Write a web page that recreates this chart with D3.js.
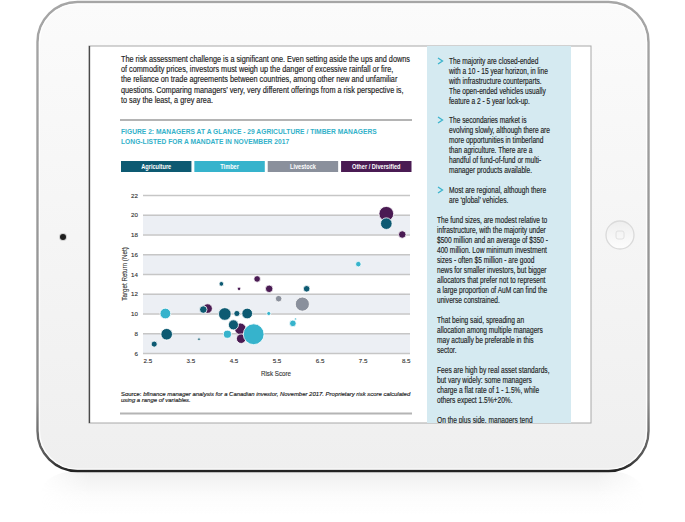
<!DOCTYPE html>
<html><head><meta charset="utf-8">
<script src="https://cdn.jsdelivr.net/npm/d3@7"></script>
<style>html,body{margin:0;padding:0;background:#fff;}svg{display:block;}</style>
</head><body>
<svg id="c" width="685" height="522"></svg>
<script>
// ---------- DATA ----------
const categories = ["Agriculture", "Timber", "Livestock", "Other / Diversified"];
const categoryColors = ["#0d5a72", "#36b3cc", "#8a909c", "#4a1b53"];
// drawing order: Other, Livestock, Agriculture, Timber
const sectorIndex  = [3,3,3,3,3,3,3,3, 2,2, 0,0,0,0,0,0,0,0,0,0,0, 1,1,1,1,1,1,1];
const riskScore    = [8.05,8.42,5.05,4.63,5.33,3.90,4.66,4.68, 5.55,6.10, 8.05,4.22,6.20,3.80,4.30,4.58,4.82,4.50,2.95,2.66,3.70, 7.40,2.92,5.32,4.97,4.36,5.88,5.94];
const targetReturn = [20.1,18.0,13.5,12.5,12.5,10.5,8.45,7.45, 11.5,10.95, 19.1,13.0,12.5,10.4,9.95,10.0,10.0,8.85,7.9,6.9,7.4, 15.0,10.0,10.0,7.9,7.9,9.0,9.45];
const fundSize     = [50,13,10,2.7,13,21,31,21, 10,46, 31,5,10,13,37,8.5,26.5,23.5,31,8.5,1.6, 7,26.5,3.8,100,15,10,1];
const xTicks = [2.5, 3.5, 4.5, 5.5, 6.5, 7.5, 8.5];
const yTicks = [6, 8, 10, 12, 14, 16, 18, 20, 22];

const titleLines = ["FIGURE 2: MANAGERS AT A GLANCE - 29 AGRICULTURE / TIMBER MANAGERS",
                    "LONG-LISTED FOR A MANDATE IN NOVEMBER 2017"];
const xTitle = "Risk Score";
const yTitle = "Target Return (Net)";
const sourceLines = ["bfinance manager analysis for a Canadian investor, November 2017. Proprietary risk score calculated",
                     "using a range of variables."];
const bodyLines = [
  "The risk assessment challenge is a significant one. Even setting aside the ups and downs",
  "of commodity prices, investors must weigh up the danger of excessive rainfall or fire,",
  "the reliance on trade agreements between countries, among other new and unfamiliar",
  "questions. Comparing managers\u2019 very, very different offerings from a risk perspective is,",
  "to say the least, a grey area."];
const bullet1 = ["The majority are closed-ended","with a 10 - 15 year horizon, in line","with infrastructure counterparts.","The open-ended vehicles usually","feature a 2 - 5 year lock-up."];
const bullet2 = ["The secondaries market is","evolving slowly, although there are","more opportunities in timberland","than agriculture. There are a","handful of fund-of-fund or multi-","manager products available."];
const bullet3 = ["Most are regional, although there","are \u2018global\u2019 vehicles."];
const para1 = ["The fund sizes, are modest relative to","infrastructure, with the majority under","$500 million and an average of $350 -","400 million. Low minimum investment","sizes - often $5 million - are good","news for smaller investors, but bigger","allocators that prefer not to represent","a large proportion of AuM can find the","universe constrained."];
const para2 = ["That being said, spreading an","allocation among multiple managers","may actually be preferable in this","sector."];
const para3 = ["Fees are high by real asset standards,","but vary widely: some managers","charge a flat rate of 1 - 1.5%, while","others expect 1.5%+20%."];
const para4 = ["On the plus side, managers tend"];

// ---------- DRAW ----------
const FONT = "'Liberation Sans', Arial, sans-serif";
const svg = d3.select("#c");
const defs = svg.append("defs");

function lg(id, x2, y2, stops) {
  const g = defs.append("linearGradient").attr("id", id).attr("x1", 0).attr("y1", 0).attr("x2", x2).attr("y2", y2);
  stops.forEach(s => g.append("stop").attr("offset", s[0]).attr("stop-color", s[1]).attr("stop-opacity", s[2] == null ? 1 : s[2]));
}
lg("bodyFill", 0, 1, [[0, "#fbfbfb"], [1, "#efefef"]]);
lg("bodyStroke", 0, 1, [[0, "#a6a6a6"], [0.85, "#8e8e8e"], [0.97, "#555"], [1, "#222"]]);
lg("topBorder", 1, 0, [[0, "#333"], [0.6, "#3a3a3a"], [0.72, "#aaa"], [1, "#c4c4c4"]]);
lg("refl", 0, 1, [[0, "#d0d0d0", 0.35], [0.5, "#e8e8e8", 0.15], [1, "#ffffff", 0]]);
lg("reflH", 1, 0, [[0, "#fff", 0], [0.08, "#fff", 1], [0.92, "#fff", 1], [1, "#fff", 0]]);
lg("homeFill", 0, 1, [[0, "#eeeeee"], [1, "#fdfdfd"]]);
const mask = defs.append("mask").attr("id", "reflMask");
mask.append("rect").attr("x", 40).attr("y", 472).attr("width", 605).attr("height", 50).attr("fill", "url(#reflH)");

// reflection
svg.append("rect").attr("x", 40).attr("y", 472).attr("width", 605).attr("height", 50).attr("rx", 30)
  .attr("fill", "url(#refl)").attr("mask", "url(#reflMask)");

// iPad body
svg.append("rect").attr("x", 37.5).attr("y", 2).attr("width", 611).attr("height", 469).attr("rx", 40)
  .attr("fill", "url(#bodyFill)").attr("stroke", "url(#bodyStroke)").attr("stroke-width", 2.4);
svg.append("rect").attr("x", 39.5).attr("y", 4).attr("width", 607).attr("height", 465).attr("rx", 38)
  .attr("fill", "none").attr("stroke", "#ffffff").attr("stroke-width", 1.2).attr("opacity", 0.9);

// camera & home button
svg.append("circle").attr("cx", 63).attr("cy", 237).attr("r", 4).attr("fill", "#cfcfcf");
svg.append("circle").attr("cx", 63).attr("cy", 237).attr("r", 3).attr("fill", "#1e1e1e");
svg.append("circle").attr("cx", 620).attr("cy", 235).attr("r", 14).attr("fill", "url(#homeFill)")
  .attr("stroke", "#dadada").attr("stroke-width", 1.3);
svg.append("rect").attr("x", 616).attr("y", 231).attr("width", 8).attr("height", 8).attr("rx", 2)
  .attr("fill", "none").attr("stroke", "#dadada").attr("stroke-width", 0.8);

// screen
const SX0 = 89, SY0 = 46, SX1 = 591, SY1 = 423;
defs.append("clipPath").attr("id", "screenClip").append("rect")
  .attr("x", SX0).attr("y", SY0).attr("width", SX1 - SX0).attr("height", SY1 - SY0);
svg.append("rect").attr("x", SX0).attr("y", SY0).attr("width", SX1 - SX0).attr("height", SY1 - SY0)
  .attr("fill", "#fff").attr("stroke", "#a8a8a8").attr("stroke-width", 1);
const screen = svg.append("g").attr("clip-path", "url(#screenClip)");
screen.append("rect").attr("x", 427).attr("y", SY0).attr("width", 144).attr("height", SY1 - SY0).attr("fill", "#d5eaf1");
svg.append("line").attr("x1", SX0).attr("x2", SX1).attr("y1", SY0 + 0.5).attr("y2", SY0 + 0.5)
  .attr("stroke", "url(#topBorder)").attr("stroke-width", 2);
svg.append("line").attr("x1", SX0 + 0.5).attr("x2", SX0 + 0.5).attr("y1", SY0).attr("y2", SY1)
  .attr("stroke", "#4a4a4a").attr("stroke-width", 1.3);

// text helper: draws lines, horizontally fitted
function textBlock(parent, lines, o) {
  const g = parent.append("g");
  const inner = g.append("g");
  const nodes = lines.map((l, i) => {
    const t = inner.append("text").attr("x", 0)
      .attr("y", o.ys ? o.ys[i] : o.y + i * o.lh)
      .attr("font-family", FONT).attr("font-size", o.size)
      .attr("font-weight", o.weight || "normal").attr("font-style", o.style || "normal")
      .attr("fill", o.fill || "#333").attr("text-anchor", o.anchor || "start")
      .attr("stroke", o.heavy ? (o.fill || "#333") : "none").attr("stroke-width", o.heavy || 0);
    if (o.prefix && i === 0) {
      t.append("tspan").attr("font-style", "normal").text(o.prefix);
    }
    t.append("tspan").text(l);
    return t.node();
  });
  let sx = o.sx || 1;
  if (o.fitWidth != null) sx = o.fitWidth / nodes[o.fitIndex || 0].getComputedTextLength();
  g.attr("transform", `translate(${o.x},0) scale(${sx},1)`);
  return sx;
}

// main paragraph
textBlock(screen, bodyLines, {x: 121, y: 61.8, lh: 10.3, size: 8.2, fill: "#222", heavy: 0.15, fitWidth: 289});

// rules
screen.append("line").attr("x1", 120).attr("x2", 412).attr("y1", 120).attr("y2", 120).attr("stroke", "#b4b4b4").attr("stroke-width", 1.8);
screen.append("line").attr("x1", 120).attr("x2", 412).attr("y1", 413.5).attr("y2", 413.5).attr("stroke", "#b4b4b4").attr("stroke-width", 1.8);

// title
textBlock(screen, titleLines, {x: 121, y: 133.8, lh: 10, size: 7, weight: "bold", fill: "#33b1c9", fitWidth: 256});

// legend
const legX = d3.scaleBand().domain(categories).range([121, 411.5]).paddingInner(0.04);
const leg = screen.append("g");
categories.forEach((c, i) => {
  leg.append("rect").attr("x", legX(c)).attr("y", 161).attr("width", legX.bandwidth()).attr("height", 11)
    .attr("fill", categoryColors[i]);
  const cx = legX(c) + legX.bandwidth() / 2;
  leg.append("text").attr("transform", `translate(${cx},169) scale(0.88,1)`)
    .attr("text-anchor", "middle").attr("font-family", FONT).attr("font-size", 6.4).attr("font-weight", "bold")
    .attr("fill", "#fff").text(c);
});

// chart
const x = d3.scaleLinear().domain([2.4, 8.6]).range([143, 410]);
const y = d3.scaleLinear().domain([6, 22]).range([353, 195]);
const r = d3.scaleSqrt().domain([0, 100]).range([0, 10.4]);
const chart = screen.append("g");
// alternating bands
for (let i = 0; i < yTicks.length - 1; i += 2) {
  chart.append("rect").attr("x", x.range()[0]).attr("width", x.range()[1] - x.range()[0])
    .attr("y", y(yTicks[i + 1])).attr("height", y(yTicks[i]) - y(yTicks[i + 1])).attr("fill", "#eceff4");
}
// gridlines via axis
const yAxis = d3.axisLeft(y).tickValues(yTicks).tickSize(-(x.range()[1] - x.range()[0])).tickPadding(5).tickFormat(d3.format("d"));
const gy = chart.append("g").attr("transform", `translate(${x.range()[0]},0)`).call(yAxis);
gy.select(".domain").remove();
gy.selectAll(".tick line").attr("stroke", "#c6c6c6").attr("stroke-width", 1.3);
gy.selectAll(".tick text").attr("font-family", FONT).attr("font-size", 6.2).attr("fill", "#333")
  .attr("stroke", "#333").attr("stroke-width", 0.12).attr("dy", "0.35em");

const xAxis = d3.axisBottom(x).tickValues(xTicks).tickSize(0).tickPadding(6).tickFormat(d3.format(".1f"));
const gx = chart.append("g").attr("transform", `translate(0,${y(6)})`).call(xAxis);
gx.select(".domain").remove();
gx.selectAll(".tick text").attr("font-family", FONT).attr("font-size", 6.2).attr("fill", "#333")
  .attr("stroke", "#333").attr("stroke-width", 0.12);

// bubbles
const pts = riskScore.map((v, i) => ({x: v, y: targetReturn[i], s: fundSize[i], c: sectorIndex[i]}));
chart.append("g").selectAll("circle").data(pts).join("circle")
  .attr("cx", d => x(d.x)).attr("cy", d => y(d.y)).attr("r", d => r(d.s))
  .attr("fill", d => categoryColors[d.c]).attr("stroke", "#fff").attr("stroke-width", 0.8);

// axis titles
chart.append("text").attr("transform", `translate(276,376) scale(0.92,1)`).attr("text-anchor", "middle")
  .attr("font-family", FONT).attr("font-size", 6.8).attr("fill", "#333").attr("stroke", "#333").attr("stroke-width", 0.12).text(xTitle);
chart.append("text").attr("transform", `translate(126.5,274) rotate(-90) scale(0.92,1)`).attr("text-anchor", "middle")
  .attr("font-family", FONT).attr("font-size", 6.8).attr("fill", "#333").attr("stroke", "#333").attr("stroke-width", 0.12).text(yTitle);

// source
textBlock(screen, sourceLines, {x: 121, y: 396, lh: 6.2, size: 5.6, style: "italic", fill: "#222", heavy: 0.15, prefix: "Source: ", fitWidth: 290});

// sidebar
const sideYs = (centers) => centers.map(c => c + 2.8);
const sideX = 449, sideP = 437;
const sideOpt = {size: 8.2, fill: "#222", heavy: 0.15};
const sxSide = textBlock(screen, bullet1, Object.assign({x: sideX, ys: sideYs([61,71,81,91,101]), fitWidth: 99, fitIndex: 1}, sideOpt));
textBlock(screen, bullet2, Object.assign({x: sideX, ys: sideYs([120,130.5,140.5,150.5,160.5,170.5]), sx: sxSide}, sideOpt));
textBlock(screen, bullet3, Object.assign({x: sideX, ys: sideYs([190,200]), sx: sxSide}, sideOpt));
textBlock(screen, para1, Object.assign({x: sideP, ys: sideYs([220,230,240,250,260,270,280.5,290.5,300.5]), sx: sxSide}, sideOpt));
textBlock(screen, para2, Object.assign({x: sideP, ys: sideYs([320,330,340,350.5]), sx: sxSide}, sideOpt));
textBlock(screen, para3, Object.assign({x: sideP, ys: sideYs([370,380,390,400]), sx: sxSide}, sideOpt));
textBlock(screen, para4, Object.assign({x: sideP, ys: sideYs([420]), sx: sxSide}, sideOpt));
// bullet chevrons
[61, 120, 190].forEach(cy => {
  screen.append("path").attr("d", `M${438},${cy - 3} L${442.5},${cy} L${438},${cy + 3}`)
    .attr("fill", "none").attr("stroke", "#3ab3cc").attr("stroke-width", 1.3);
});
</script>
</body></html>
